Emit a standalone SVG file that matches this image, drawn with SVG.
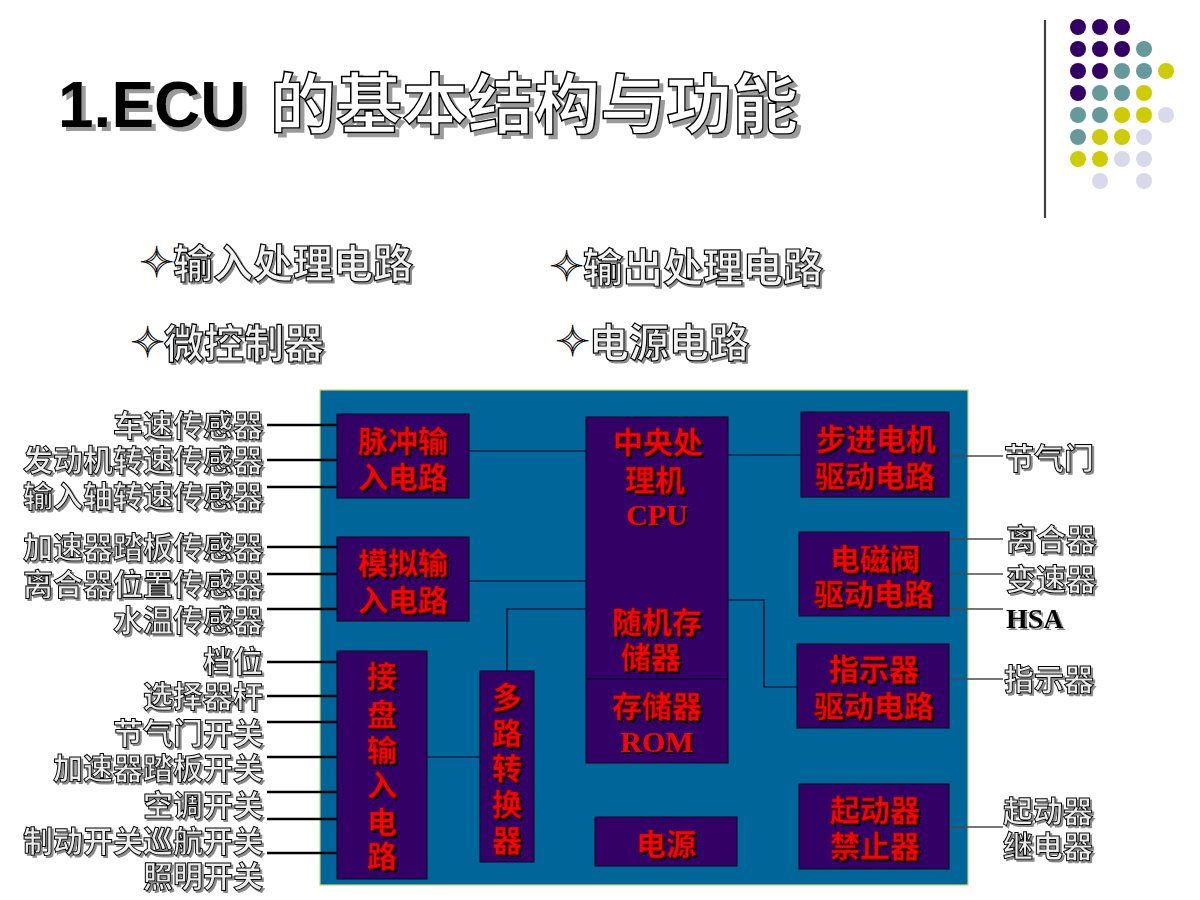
<svg xmlns="http://www.w3.org/2000/svg" width="1200" height="900" viewBox="0 0 1200 900">
<defs>
<filter id="shBig" x="-5%" y="-10%" width="115%" height="130%">
<feOffset in="SourceAlpha" dx="4" dy="4" result="o"/>
<feFlood flood-color="#9a9a9a"/>
<feComposite in2="o" operator="in" result="s"/>
<feMerge><feMergeNode in="s"/><feMergeNode in="SourceGraphic"/></feMerge>
</filter>
<filter id="shSmall" x="-5%" y="-10%" width="115%" height="130%">
<feOffset in="SourceAlpha" dx="2" dy="2" result="o"/>
<feFlood flood-color="#8a8a8a"/>
<feComposite in2="o" operator="in" result="s"/>
<feMerge><feMergeNode in="s"/><feMergeNode in="SourceGraphic"/></feMerge>
</filter>
<filter id="shDark" x="-5%" y="-10%" width="115%" height="130%">
<feOffset in="SourceAlpha" dx="1.5" dy="1.5" result="o"/>
<feFlood flood-color="#000000"/>
<feComposite in2="o" operator="in" result="s"/>
<feMerge><feMergeNode in="s"/><feMergeNode in="SourceGraphic"/></feMerge>
</filter>
</defs>
<style>
.cjk{font-family:"Noto Sans CJK SC","Noto Sans","DejaVu Sans",sans-serif;font-weight:bold}
.serif{font-family:"Liberation Serif","Noto Sans CJK SC",serif;font-weight:bold}
.title1{font-family:"Liberation Sans",Arial,sans-serif;font-weight:bold;font-size:64px;fill:#000;filter:url(#shBig)}
.titlec{font-size:66px;fill:#fff;stroke:#000;stroke-width:1.5;filter:url(#shBig)}
.bul{font-size:40px;fill:#f2f2f2;stroke:#000;stroke-width:1.2;filter:url(#shSmall)}
.star{font-family:"DejaVu Sans",sans-serif;font-size:42px;fill:#fff;stroke:#000;stroke-width:1}
.lbl{font-size:30px;fill:#ececec;stroke:#000;stroke-width:1;filter:url(#shSmall)}
.lblL{text-anchor:end}
.hsa{font-size:28px;fill:#000;filter:url(#shSmall)}
.red{font-size:30px;fill:#ff0000;stroke:#7a0000;stroke-width:0.6;filter:url(#shDark);text-anchor:middle}
.redS{font-size:30px;fill:#ff0000;filter:url(#shDark);text-anchor:middle}
.box{fill:#330066;stroke:#10102a;stroke-width:1.2}
.ext{stroke:#000;stroke-width:2.5;fill:none}
.int{stroke:#000022;stroke-width:1.2;fill:none}
.out{stroke:#4a4a4a;stroke-width:1.4;fill:none}
.P{fill:#330066}.T{fill:#669999}.Y{fill:#cccc00}.L{fill:#d9d9ec}
</style>
<rect width="1200" height="900" fill="#ffffff"/>

<!-- decoration -->
<g id="decoration">
<line x1="1045" y1="20" x2="1045" y2="218" stroke="#404040" stroke-width="2.2"/>
<circle class="P" cx="1078" cy="27" r="8"/><circle class="P" cx="1100" cy="27" r="8"/><circle class="P" cx="1122" cy="27" r="8"/>
<circle class="P" cx="1078" cy="49" r="8"/><circle class="P" cx="1100" cy="49" r="8"/><circle class="P" cx="1122" cy="49" r="8"/><circle class="T" cx="1144" cy="49" r="8"/>
<circle class="P" cx="1078" cy="71" r="8"/><circle class="P" cx="1100" cy="71" r="8"/><circle class="T" cx="1122" cy="71" r="8"/><circle class="T" cx="1144" cy="71" r="8"/><circle class="Y" cx="1166" cy="71" r="8"/>
<circle class="P" cx="1078" cy="93" r="8"/><circle class="T" cx="1100" cy="93" r="8"/><circle class="T" cx="1122" cy="93" r="8"/><circle class="Y" cx="1144" cy="93" r="8"/>
<circle class="T" cx="1078" cy="115" r="8"/><circle class="T" cx="1100" cy="115" r="8"/><circle class="Y" cx="1122" cy="115" r="8"/><circle class="Y" cx="1144" cy="115" r="8"/><circle class="L" cx="1166" cy="115" r="8"/>
<circle class="T" cx="1078" cy="137" r="8"/><circle class="Y" cx="1100" cy="137" r="8"/><circle class="Y" cx="1122" cy="137" r="8"/><circle class="L" cx="1144" cy="137" r="8"/>
<circle class="Y" cx="1078" cy="159" r="8"/><circle class="Y" cx="1100" cy="159" r="8"/><circle class="L" cx="1122" cy="159" r="8"/><circle class="L" cx="1144" cy="159" r="8"/>
<circle class="L" cx="1100" cy="181" r="8"/><circle class="L" cx="1144" cy="181" r="8"/>
</g>

<!-- title -->
<g id="title">
<text x="58" y="127" class="title1">1.ECU</text>
<text x="270" y="128" class="cjk titlec">的基本结构与功能</text>
</g>

<!-- bullets -->
<g id="bullets">
<text x="139" y="277" class="star">✧</text>
<text x="173" y="278" class="cjk bul">输入处理电路</text>
<text x="549" y="281" class="star">✧</text>
<text x="583" y="282" class="cjk bul">输出处理电路</text>
<text x="130" y="357" class="star">✧</text>
<text x="164" y="358" class="cjk bul">微控制器</text>
<text x="555" y="356" class="star">✧</text>
<text x="589" y="357" class="cjk bul">电源电路</text>
</g>

<!-- ECU board -->
<g id="ecu-board">
<rect x="320" y="390" width="648" height="495" fill="#006699" stroke="#c8d860" stroke-width="1.2"/>
</g>

<!-- connectors -->
<g id="connectors">
<line class="ext" x1="267" y1="425" x2="337" y2="425"/>
<line class="ext" x1="267" y1="460" x2="337" y2="460"/>
<line class="ext" x1="267" y1="487" x2="337" y2="487"/>
<line class="ext" x1="267" y1="547" x2="337" y2="547"/>
<line class="ext" x1="267" y1="574" x2="337" y2="574"/>
<line class="ext" x1="267" y1="609" x2="337" y2="609"/>
<line class="ext" x1="267" y1="662" x2="337" y2="662"/>
<line class="ext" x1="267" y1="696" x2="337" y2="696"/>
<line class="ext" x1="267" y1="722" x2="337" y2="722"/>
<line class="ext" x1="267" y1="757" x2="337" y2="757"/>
<line class="ext" x1="267" y1="792" x2="337" y2="792"/>
<line class="ext" x1="267" y1="819" x2="337" y2="819"/>
<line class="ext" x1="267" y1="853" x2="337" y2="853"/>
<line class="int" x1="469" y1="451" x2="586" y2="451"/>
<line class="int" x1="469" y1="581" x2="586" y2="581"/>
<line class="int" x1="427" y1="757" x2="480" y2="757"/>
<polyline class="int" points="507,671 507,609 586,609"/>
<line class="int" x1="728" y1="455" x2="801" y2="455"/>
<polyline class="int" points="728,600 764,600 764,687 807,687"/>
<line class="out" x1="949" y1="456" x2="1003" y2="456"/>
<line class="out" x1="949" y1="539" x2="1003" y2="539"/>
<line class="out" x1="949" y1="574" x2="1003" y2="574"/>
<line class="out" x1="949" y1="609" x2="1003" y2="609"/>
<line class="out" x1="949" y1="679" x2="1003" y2="679"/>
<line class="out" x1="949" y1="827" x2="1003" y2="827"/>
</g>

<!-- input labels -->
<g id="input-labels" class="cjk">
<text x="263" y="436" class="cjk lbl lblL">车速传感器</text>
<text x="263" y="471" class="cjk lbl lblL">发动机转速传感器</text>
<text x="263" y="507" class="cjk lbl lblL">输入轴转速传感器</text>
<text x="263" y="558" class="cjk lbl lblL">加速器踏板传感器</text>
<text x="263" y="595" class="cjk lbl lblL">离合器位置传感器</text>
<text x="263" y="631" class="cjk lbl lblL">水温传感器</text>
<text x="263" y="672" class="cjk lbl lblL">档位</text>
<text x="263" y="707" class="cjk lbl lblL">选择器杆</text>
<text x="263" y="744" class="cjk lbl lblL">节气门开关</text>
<text x="263" y="779" class="cjk lbl lblL">加速器踏板开关</text>
<text x="263" y="816" class="cjk lbl lblL">空调开关</text>
<text x="263" y="852" class="cjk lbl lblL">制动开关巡航开关</text>
<text x="263" y="887" class="cjk lbl lblL">照明开关</text>
</g>

<!-- nodes -->
<g id="pulse-input">
<rect class="box" x="337" y="414" width="132" height="84"/>
<text class="cjk red" x="403" y="452">脉冲输</text>
<text class="cjk red" x="403" y="488">入电路</text>
</g>
<g id="analog-input">
<rect class="box" x="337" y="537" width="132" height="84"/>
<text class="cjk red" x="403" y="574">模拟输</text>
<text class="cjk red" x="403" y="611">入电路</text>
</g>
<g id="switch-input">
<rect class="box" x="337" y="651" width="90" height="228"/>
<text class="cjk red" x="382" y="687">接</text>
<text class="cjk red" x="382" y="725">盘</text>
<text class="cjk red" x="382" y="761">输</text>
<text class="cjk red" x="382" y="796">入</text>
<text class="cjk red" x="382" y="833">电</text>
<text class="cjk red" x="382" y="867">路</text>
</g>
<g id="multiplexer">
<rect class="box" x="480" y="671" width="54" height="191"/>
<text class="cjk red" x="507" y="708">多</text>
<text class="cjk red" x="507" y="744">路</text>
<text class="cjk red" x="507" y="779">转</text>
<text class="cjk red" x="507" y="815">换</text>
<text class="cjk red" x="507" y="851">器</text>
</g>
<g id="cpu">
<rect class="box" x="586" y="417" width="142" height="346"/>
<line class="int" x1="586" y1="679" x2="728" y2="679"/>
<line class="int" x1="657" y1="635" x2="657" y2="679"/>
<text class="cjk red" x="658" y="453">中央处</text>
<text class="cjk red" x="655" y="491">理机</text>
<text class="serif redS" x="657" y="525">CPU</text>
<text class="cjk red" x="657" y="633">随机存</text>
<text class="cjk red" x="651" y="668">储器</text>
<text class="cjk red" x="657" y="717">存储器</text>
<text class="serif redS" x="657" y="752">ROM</text>
</g>
<g id="stepper-driver">
<rect class="box" x="801" y="412" width="148" height="85"/>
<text class="cjk red" x="876" y="450">步进电机</text>
<text class="cjk red" x="875" y="487">驱动电路</text>
</g>
<g id="solenoid-driver">
<rect class="box" x="799" y="532" width="150" height="84"/>
<text class="cjk red" x="875" y="570">电磁阀</text>
<text class="cjk red" x="874" y="605">驱动电路</text>
</g>
<g id="indicator-driver">
<rect class="box" x="797" y="644" width="152" height="84"/>
<text class="cjk red" x="874" y="680">指示器</text>
<text class="cjk red" x="874" y="717">驱动电路</text>
</g>
<g id="starter-inhibit">
<rect class="box" x="799" y="784" width="150" height="85"/>
<text class="cjk red" x="875" y="821">起动器</text>
<text class="cjk red" x="875" y="857">禁止器</text>
</g>
<g id="power">
<rect class="box" x="595" y="817" width="142" height="49"/>
<text class="cjk red" x="666" y="855">电源</text>
</g>

<!-- output labels -->
<g id="output-labels">
<text x="1004" y="469" class="cjk lbl">节气门</text>
<text x="1006" y="550" class="cjk lbl">离合器</text>
<text x="1006" y="590" class="cjk lbl">变速器</text>
<text x="1006" y="628" class="serif hsa">HSA</text>
<text x="1004" y="690" class="cjk lbl">指示器</text>
<text x="1003" y="822" class="cjk lbl">起动器</text>
<text x="1003" y="857" class="cjk lbl">继电器</text>
</g>
</svg>
